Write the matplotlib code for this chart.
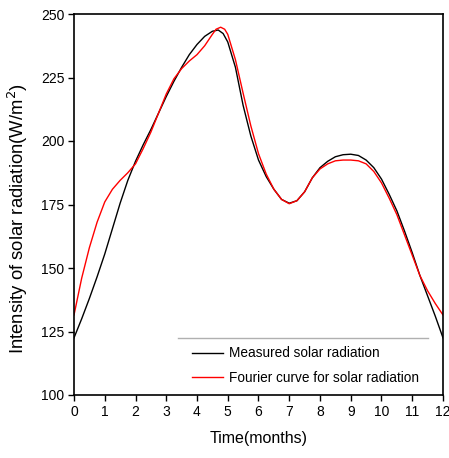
import matplotlib
matplotlib.use("Agg")
import matplotlib.pyplot as plt
from matplotlib.lines import Line2D

months = [0, 0.25, 0.5, 0.75, 1.0, 1.25, 1.5, 1.75, 2.0, 2.25, 2.5, 2.75, 3.0, 3.25, 3.5, 3.75,
          4.0, 4.25, 4.5, 4.69, 4.85, 5.0, 5.25, 5.5, 5.75, 6.0, 6.25, 6.5, 6.75, 7.0, 7.25, 7.5,
          7.75, 8.0, 8.25, 8.5, 8.75, 9.0, 9.25, 9.5, 9.75, 10.0, 10.25, 10.5, 10.75, 11.0,
          11.25, 11.5, 11.75, 12.0]
measured = [122.5, 130, 138, 146.5, 155.5, 165.5, 175.5, 184.5, 192, 198.5, 204.5, 211, 217.5, 223.5,
            229, 234, 238, 241.2, 243.2, 243.7, 242.3, 239, 229, 214, 202, 192.5, 186, 181, 177, 175.5,
            176.5, 180, 185.5, 189.5, 192, 193.8, 194.6, 194.8, 194.3, 192.5, 189.5, 185, 179,
            172.5, 164.5, 156, 147, 139, 131, 122.5]
fourier_months = [0, 0.25, 0.5, 0.75, 1.0, 1.25, 1.5, 1.75, 2.0, 2.25, 2.5, 2.75, 3.0, 3.25, 3.5,
                  3.75, 4.0, 4.25, 4.5, 4.62, 4.77, 4.9, 5.0, 5.25, 5.5, 5.75, 6.0, 6.25, 6.5, 6.75,
                  7.0, 7.25, 7.5, 7.75, 8.0, 8.25, 8.5, 8.75, 9.0, 9.25, 9.5, 9.75, 10.0, 10.25,
                  10.5, 10.75, 11.0, 11.25, 11.5, 11.75, 12.0]
fourier = [131.5, 146, 158, 168, 176, 181, 184.5, 187.5, 191, 197, 203.5, 211, 218.5, 224.5,
           228.5, 231.5, 234, 237.5, 242, 244, 244.8, 244, 242, 232, 218.8, 206, 195, 187, 181,
           177, 175.3, 176.5, 180, 185.5, 189, 191, 192.2, 192.5, 192.5, 192.2, 191, 188,
           183.5, 177.5, 171, 163, 155, 147, 141, 136, 131.5]
xticks = list(range(0, 13))
yticks = [100, 125, 150, 175, 200, 225, 250]
labels = ["Measured solar radiation", "Fourier curve for solar radiation"]

font = "Liberation Sans"

fig = plt.figure(figsize=(4.49, 4.58), dpi=100)
ax = fig.add_axes([74/449, 63/458, 369/449, 381/458])

ax.plot(months, measured, color="black", lw=1.0, label=labels[0])
ax.plot(fourier_months, fourier, color="#ff0000", lw=1.0, label=labels[1])

ax.set_xlim(0, 12)
ax.set_ylim(100, 250)
ax.set_xticks(xticks)
ax.set_yticks(yticks)
for s in ax.spines.values():
    s.set_linewidth(1.2)
ax.tick_params(direction="out", length=4, width=1, top=False, right=False, pad=3)
for lab in ax.get_xticklabels() + ax.get_yticklabels():
    lab.set_fontfamily(font)
    lab.set_fontsize(10)

ax.set_xlabel("Time(months)", family=font, fontsize=11.5, labelpad=9)
ax.set_ylabel("Intensity of solar radiation(W/m$^2$)", family=font, fontsize=13.3)
ax.yaxis.set_label_coords(-0.118, 0.462)

# legend with a thin grey line above it
ax.add_line(Line2D([0.283, 0.958], [0.149, 0.149], transform=ax.transAxes,
                   color="#b0b0b0", lw=1.0))
leg = ax.legend(loc="upper left", bbox_to_anchor=(0.305, 0.142), frameon=False,
                handlelength=2.3, handletextpad=0.45, labelspacing=0.75,
                prop={"family": font, "size": 9.8}, borderaxespad=0)

fig.savefig("out.png", dpi=100)
